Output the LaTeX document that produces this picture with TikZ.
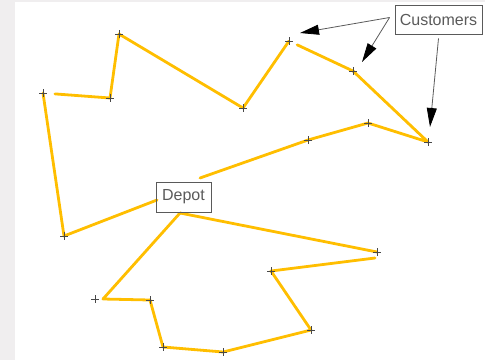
\documentclass[tikz,border=0pt]{standalone}
\usepackage{fontspec}
\setmainfont{Liberation Sans}
\usetikzlibrary{arrows.meta,backgrounds}

\definecolor{route}{RGB}{255,190,0}
\definecolor{frame}{RGB}{240,238,239}
\definecolor{ink}{RGB}{90,90,90}

\tikzset{
  tour/.style={draw=route, line width=2.8pt, line cap=round, line join=round},
  plusmark/.style={draw=ink!80!black, line width=0.8pt},
  tag/.style={draw=ink, line width=0.9pt, text=ink, inner sep=0pt,
    font=\fontsize{16}{18}\selectfont},
  pointer/.style={draw=ink, line width=0.8pt, -{Triangle[length=19pt,width=10pt,color=black]}}
}

\begin{document}
\begin{tikzpicture}[x=1pt, y=-1pt]
  \useasboundingbox (0,0) rectangle (485,360);
  \fill[frame] (0,0) rectangle (15,360);
  \fill[frame] (15,0) rectangle (485,1.5);

  % customer locations
  \coordinate (c1) at (43,93);
  \coordinate (c2) at (110,98);
  \coordinate (c3) at (119,34);
  \coordinate (c4) at (243,108);
  \coordinate (c5) at (289,41);
  \coordinate (c6) at (353,71);
  \coordinate (c7) at (428,142);
  \coordinate (c8) at (368,123);
  \coordinate (c9) at (308,140);
  \coordinate (c10) at (64,236);
  \coordinate (c11) at (377,252);
  \coordinate (c12) at (271,271);
  \coordinate (c13) at (311,330);
  \coordinate (c14) at (223,352);
  \coordinate (c15) at (163,347);
  \coordinate (c16) at (150,300);
  \coordinate (c17) at (95,299);

  \node[tag, minimum width=55pt, minimum height=30pt] (depot) at (183.5,197) {Depot};
  \node[tag, minimum width=87pt, minimum height=29pt] (cust) at (438.5,19.5) {Customers};

  % where the tours leave and reach the depot
  \coordinate (dA) at (157,200);
  \coordinate (dB) at (180,213);
  \coordinate (dC) at (200,178);

  \begin{pgfonlayer}{background}
    % first tour
    \draw[tour] (dA) -- (c10) -- (c1);
    \draw[tour, shorten <=12pt] (c1) -- (c2);
    \draw[tour] (c2) -- (c3) -- (c4) -- (c5);
    \draw[tour, shorten <=9pt] (c5) -- (c6);
    \draw[tour] (c6) -- (c7) -- (c8) -- (c9) -- (dC);
    % second tour
    \draw[tour] (dB) -- (c11);
    \draw[tour] ([shift={(-2,6)}]c11) -- (c12) -- (c13) -- (c14) -- (c15) -- (c16);
    \draw[tour] (c16) -- ([xshift=8pt]c17) -- (dB);
  \end{pgfonlayer}

  \foreach \p in {c1,c2,c3,c4,c5,c6,c7,c8,c9,c10,c11,c12,c13,c14,c15,c16,c17}
    \draw[plusmark] (\p) +(-4,0) -- +(4,0) (\p) +(0,-4) -- +(0,4);

  \coordinate (hub) at ([xshift=-5pt, yshift=2pt]cust.west);
  \draw[pointer] (hub) -- ([shift={(11,-8)}]c5);
  \draw[pointer] (hub) -- ([shift={(9,-9)}]c6);
  \draw[pointer] ([yshift=-4pt]cust.south) -- ([shift={(2,-15)}]c7);
\end{tikzpicture}
\end{document}
